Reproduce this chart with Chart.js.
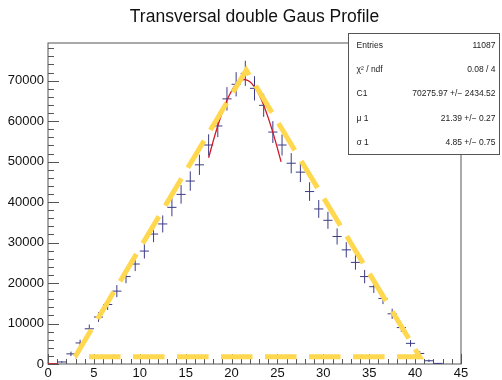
<!DOCTYPE html>
<html lang="en">
<head>
<meta charset="UTF-8"/>
<title>Transversal double Gaus Profile</title>
<script src="https://cdn.jsdelivr.net/npm/chart.js"></script>
<style>
  body { margin: 0; background: #fff; }
  #wrap { width: 502px; height: 380px; }
</style>
</head>
<body>
<div id="wrap"><canvas id="profileChart"></canvas></div>
<script>
  // profile bins (width 1), contents and errors
  const binCenters = [0.5, 1.5, 2.5, 3.5, 4.5, 5.5, 6.5, 7.5, 8.5, 9.5, 10.5, 11.5, 12.5, 13.5, 14.5,
    15.5, 16.5, 17.5, 18.5, 19.5, 20.5, 21.5, 22.5, 23.5, 24.5, 25.5, 26.5, 27.5, 28.5, 29.5,
    30.5, 31.5, 32.5, 33.5, 34.5, 35.5, 36.5, 37.5, 38.5, 39.5, 40.5, 41.5, 42.5];
  const binValues = [0, 500, 2500, 5200, 8700, 11600, 14700, 18000, 21600, 24700, 27900, 32100, 34600, 38700, 41900,
    45200, 49200, 54100, 58800, 65500, 69100, 71800, 68100, 63900, 57300, 54100, 49600, 47400, 42600, 38300,
    35500, 31500, 28200, 25100, 21600, 19100, 16200, 12400, 9000, 5100, 2600, 800, 150];
  const binErrors = [0, 200, 550, 800, 1050, 1200, 1350, 1500, 1650, 1750, 1850, 2000, 2100, 2200, 2300,
    2400, 2500, 2650, 2750, 2900, 3000, 3100, 3000, 2850, 2700, 2600, 2500, 2450, 2300, 2200,
    2100, 2000, 1900, 1800, 1650, 1550, 1400, 1250, 1050, 800, 550, 300, 100];

  // gaussian fit curve (C1, mu 1, sigma 1 from the stats box)
  const fitX = [17.5, 18.0, 18.5, 19.0, 19.5, 20.0, 20.5, 21.0, 21.5, 22.0, 22.5, 23.0, 23.5, 24.0, 24.5, 25.0, 25.4];
  const fitY = [50950, 55050, 58840, 62240, 65140, 67450, 69100, 70050, 70260, 69720, 68460, 66510, 63930, 60800, 57210, 53280, 49930];

  // second component, empty first bin
  const fit2X = [0, 1];
  const fit2Y = [0, 0];

  // dashed triangular envelope
  const envX = [2.95, 21.6, 40.5, 2.95];
  const envY = [1800, 72600, 1800, 1800];

  const xTicks = [0, 5, 10, 15, 20, 25, 30, 35, 40, 45];
  const yTicks = [0, 10000, 20000, 30000, 40000, 50000, 60000, 70000];

  const statLabels = ['Entries', 'χ² / ndf', 'C1', 'μ 1', 'σ 1'];
  const statValues = ['11087', '0.08 / 4', '70275.97 +/− 2434.52', '21.39 +/− 0.27', '4.85 +/− 0.75'];

  const FONT = "'Liberation Sans', Arial, sans-serif";
  const markerColor = '#3c3c86';
  const frameColor = '#555';

  const toPts = (xs, ys) => xs.map((x, i) => ({ x: x, y: ys[i] }));

  // frame, inner ticks and vertical error bars
  const framePlugin = {
    id: 'frame',
    beforeDatasetsDraw(chart) {
      const { ctx, chartArea: a, scales: { x, y } } = chart;
      ctx.save();
      ctx.strokeStyle = frameColor;
      ctx.lineWidth = 1;
      ctx.strokeRect(a.left, a.top, a.right - a.left, a.bottom - a.top);

      ctx.beginPath();
      for (let v = 0; v <= 45; v += 1) {
        const px = Math.round(x.getPixelForValue(v)) + 0.5;
        const len = v % 5 === 0 ? 10 : 5;
        ctx.moveTo(px, a.bottom);
        ctx.lineTo(px, a.bottom - len);
      }
      for (let v = 0; v < y.max; v += 2000) {
        const py = Math.round(y.getPixelForValue(v)) + 0.5;
        const len = v % 10000 === 0 ? 11 : 6;
        ctx.moveTo(a.left, py);
        ctx.lineTo(a.left + len, py);
      }
      ctx.stroke();

      ctx.strokeStyle = markerColor;
      ctx.beginPath();
      binCenters.forEach((c, i) => {
        if (!binErrors[i]) return;
        const px = x.getPixelForValue(c);
        ctx.moveTo(px, y.getPixelForValue(binValues[i] - binErrors[i]));
        ctx.lineTo(px, y.getPixelForValue(binValues[i] + binErrors[i]));
      });
      ctx.stroke();
      ctx.restore();
    }
  };

  // statistics box, top right
  const statsPlugin = {
    id: 'stats',
    afterDraw(chart) {
      const ctx = chart.ctx;
      const left = 348.5, top = 33.5, right = 499.5, bottom = 154.5;
      ctx.save();
      ctx.fillStyle = '#fff';
      ctx.fillRect(left, top, right - left, bottom - top);
      ctx.strokeStyle = frameColor;
      ctx.lineWidth = 1;
      ctx.strokeRect(left, top, right - left, bottom - top);
      ctx.fillStyle = '#222';
      ctx.font = '8.5px ' + FONT;
      ctx.textBaseline = 'middle';
      const step = (bottom - top) / statLabels.length;
      statLabels.forEach((lab, i) => {
        const cy = top + step * (i + 0.5);
        ctx.textAlign = 'left';
        ctx.fillText(lab, left + 8, cy);
        ctx.textAlign = 'right';
        ctx.fillText(statValues[i], right - 4, cy);
      });
      ctx.restore();
    }
  };

  new Chart(document.getElementById('profileChart'), {
    type: 'scatter',
    data: {
      datasets: [
        {
          label: 'envelope',
          type: 'line',
          data: toPts(envX, envY),
          borderColor: '#ffd84f',
          borderWidth: 5,
          borderDash: [31.5, 12.5],
          borderCapStyle: 'butt',
          pointRadius: 0,
          tension: 0,
          fill: false,
          order: 0
        },
        {
          label: 'gaus fit',
          type: 'line',
          data: toPts(fitX, fitY),
          borderColor: '#d01828',
          borderWidth: 1.3,
          pointRadius: 0,
          tension: 0.3,
          fill: false,
          order: 1
        },
        {
          label: 'second gaus',
          type: 'line',
          data: toPts(fit2X, fit2Y),
          borderColor: '#d01828',
          borderWidth: 1.5,
          pointRadius: 0,
          fill: false,
          order: 1
        },
        {
          label: 'profile',
          data: toPts(binCenters, binValues),
          pointStyle: 'line',
          pointRadius: c => {
            const xs = c.chart.scales.x;
            return (xs.getPixelForValue(1) - xs.getPixelForValue(0)) / 2;
          },
          pointBorderColor: markerColor,
          pointBorderWidth: 1,
          showLine: false,
          order: 2
        }
      ]
    },
    options: {
      responsive: true,
      maintainAspectRatio: false,
      animation: false,
      events: [],
      layout: { padding: { left: 0, right: 41, top: 0, bottom: 0 } },
      plugins: {
        legend: { display: false },
        tooltip: { enabled: false },
        title: {
          display: true,
          fullSize: false,
          text: 'Transversal double Gaus Profile',
          color: '#111',
          font: { family: FONT, size: 17.5, weight: 'normal' },
          padding: { top: 7, bottom: 15 }
        }
      },
      scales: {
        x: {
          type: 'linear',
          min: 0,
          max: 45,
          afterFit: s => { s.height = 16; },
          afterBuildTicks: s => { s.ticks = xTicks.map(v => ({ value: v })); },
          grid: { display: false, drawTicks: false },
          border: { display: false },
          ticks: { color: '#111', font: { family: FONT, size: 13 }, padding: 2, maxRotation: 0,
                   callback: v => String(v) }
        },
        y: {
          type: 'linear',
          min: 0,
          max: 79300,
          afterFit: s => { s.width = 48; },
          afterBuildTicks: s => { s.ticks = yTicks.map(v => ({ value: v })); },
          grid: { display: false, drawTicks: false },
          border: { display: false },
          ticks: { color: '#111', font: { family: FONT, size: 13 }, padding: 4,
                   callback: v => String(v) }
        }
      }
    },
    plugins: [framePlugin, statsPlugin]
  });
</script>
</body>
</html>
